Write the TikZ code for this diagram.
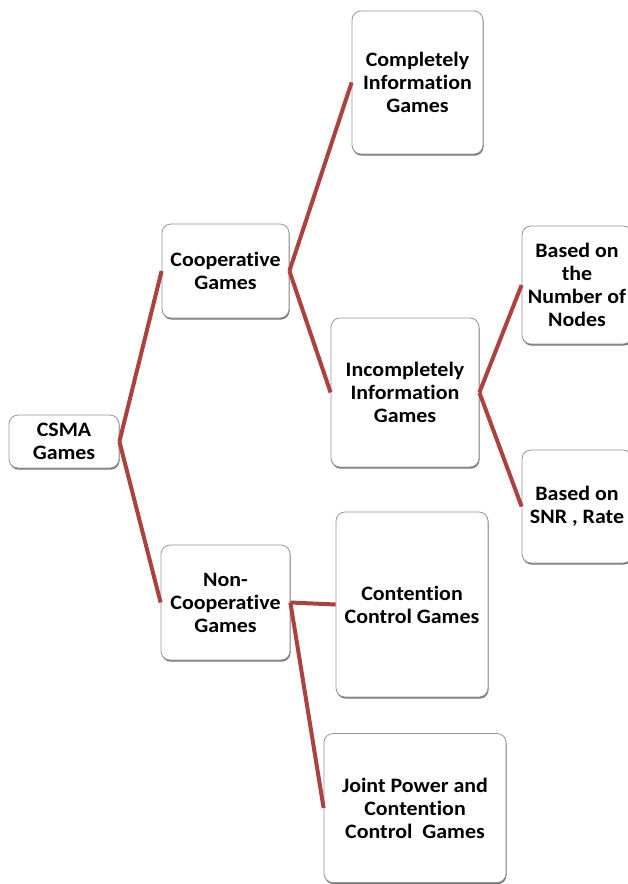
\documentclass[tikz,border=0pt]{standalone}
\usepackage{fontspec}
\setmainfont{Carlito}[Ligatures=NoCommon,FakeStretch=1.07]
\usetikzlibrary{shadows}
\definecolor{linkred}{RGB}{172,66,64}
\definecolor{boxline}{RGB}{150,150,150}
\begin{document}
\begin{tikzpicture}[x=1pt,y=-1pt,
  gamebox/.style={draw=boxline,fill=white,line width=0.8pt,rounded corners=9pt,
    shape=rectangle,align=center,inner sep=2pt,
    font=\fontsize{20.5}{23}\selectfont\bfseries,
    drop shadow={shadow xshift=0.6pt,shadow yshift=-1.6pt,fill=black!55,opacity=1}},
  link/.style={draw=linkred,line width=4pt}]
\useasboundingbox (0,0) rectangle (628,884);
\clip (0,0) rectangle (628,884);

\node (csma) [gamebox,minimum width=110pt,minimum height=53pt] at (64,441.5) {CSMA\\Games};
\node (coop) [gamebox,minimum width=127pt,minimum height=94pt] at (225.5,271) {Cooperative\\Games};
\node (noncoop) [gamebox,minimum width=129pt,minimum height=115pt] at (225.5,602.5) {Non-\\Cooperative\\Games};
\node (complete) [gamebox,minimum width=131pt,minimum height=143pt] at (417.5,82.5) {Completely\\Information\\Games};
\node (incomplete) [gamebox,minimum width=148pt,minimum height=149pt] at (405,392.5) {Incompletely\\Information\\Games};
\node (nodecount) [gamebox,minimum width=110pt,minimum height=118pt] at (577,285) {Based on\\the\\Number of\\Nodes};
\node (snrrate) [gamebox,minimum width=110pt,minimum height=113pt] at (577,506.5) {Based on\\SNR , Rate};
\node (contention) [gamebox,minimum width=152pt,minimum height=185pt] at (412,604.5) {Contention\\Control Games};
\node (joint) [gamebox,minimum width=182pt,minimum height=149pt] at (415,808) {Joint Power and\\Contention\\Control\ \ Games};

\draw[link] (csma.east) -- (coop.west);
\draw[link] (csma.east) -- (noncoop.west);
\draw[link] (coop.east) -- (complete.west);
\draw[link] (coop.east) -- (incomplete.west);
\draw[link] (incomplete.east) -- (nodecount.west);
\draw[link] (incomplete.east) -- (snrrate.west);
\draw[link] (noncoop.east) -- (contention.west);
\draw[link] (noncoop.east) -- (joint.west);

\end{tikzpicture}
\end{document}
